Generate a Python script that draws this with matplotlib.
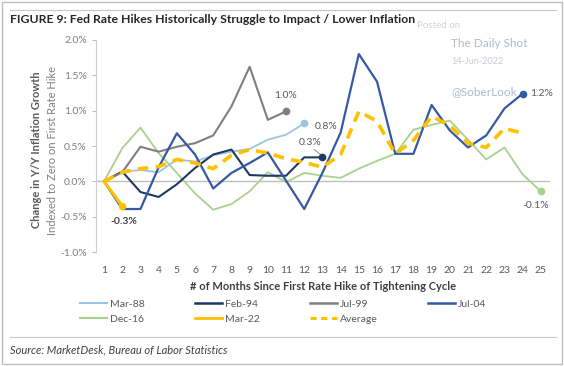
import numpy as np
import matplotlib
matplotlib.use("Agg")
import matplotlib.pyplot as plt
from matplotlib.lines import Line2D

plt.rcParams['font.family'] = ['Lato', 'DejaVu Sans']

# data: change in y/y inflation (%), indexed to zero at first hike
months = list(range(1, 26))
mar88 = [0, 0.14, 0.16, 0.13, 0.31, 0.28, 0.37, 0.42, 0.46, 0.59, 0.66, 0.82]
feb94 = [0, 0.14, -0.15, -0.22, -0.04, 0.19, 0.38, 0.45, 0.09, 0.08, 0.08, 0.34, 0.34]
jul99 = [0, 0.13, 0.49, 0.42, 0.49, 0.54, 0.65, 1.06, 1.62, 0.87, 0.99]
jul04 = [0, -0.39, -0.39, 0.2, 0.68, 0.38, -0.1, 0.12, 0.26, 0.41, 0.01, -0.39, 0.12,
         0.69, 1.8, 1.41, 0.39, 0.39, 1.08, 0.72, 0.48, 0.65, 1.03, 1.24]
dec16 = [0, 0.47, 0.76, 0.4, 0.12, -0.17, -0.4, -0.32, -0.14, 0.13, -0.01, 0.12, 0.08,
         0.05, 0.18, 0.29, 0.39, 0.73, 0.8, 0.86, 0.59, 0.31, 0.48, 0.1, -0.14]
mar22 = [0, -0.35]
average = [0, 0.13, 0.18, 0.21, 0.31, 0.26, 0.18, 0.37, 0.45, 0.4, 0.32, 0.27, 0.2,
           0.38, 0.99, 0.85, 0.39, 0.58, 0.92, 0.79, 0.54, 0.48, 0.75, 0.68]

c_mar88 = '#9DC3E6'
c_feb94 = '#1F3864'
c_jul99 = '#7F7F7F'
c_jul04 = '#3559A5'
c_dec16 = '#A9D18E'
c_mar22 = '#FFC000'

fig = plt.figure(figsize=(5.64, 3.66), dpi=100)
ax = fig.add_axes([0.170, 0.311, 0.805, 0.58])

def m(vals):
    return months[:len(vals)]

ax.plot(m(mar88), mar88, color=c_mar88, lw=1.3, zorder=3)
ax.plot(m(feb94), feb94, color=c_feb94, lw=1.5, zorder=3)
ax.plot(m(jul99), jul99, color=c_jul99, lw=1.5, zorder=3)
ax.plot(m(jul04), jul04, color=c_jul04, lw=1.6, zorder=3)
ax.plot(m(dec16), dec16, color=c_dec16, lw=1.3, zorder=2)
ax.plot(m(mar22), mar22, color=c_mar22, lw=2.2, zorder=5)
ax.plot(m(average), average, color=c_mar22, lw=2.6, ls=(0, (3, 2)), zorder=4)

# end markers
for vals, c in [(mar88, c_mar88), (feb94, c_feb94), (jul99, c_jul99), (jul04, c_jul04),
                (dec16, c_dec16), (mar22, c_mar22)]:
    ax.plot(len(vals), vals[-1], 'o', color=c, ms=4.5, zorder=6)

ax.axhline(0, color='#BFBFBF', lw=1.0, zorder=1)

ax.set_xlim(0.55, 25.5)
ax.set_ylim(-1.0, 2.0)
ax.set_xticks(months)
ax.set_yticks(np.arange(-1.0, 2.01, 0.5))
ax.set_yticklabels(['%.1f%%' % v for v in np.arange(-1.0, 2.01, 0.5)])
ax.tick_params(axis='x', length=0, labelsize=7.5, colors='#595959', pad=10)
ax.tick_params(axis='y', length=3, labelsize=7.5, colors='#7F7F7F', direction='out', width=0.8)
ax.tick_params(axis='y', color='#BFBFBF')
for s in ['top', 'right', 'bottom']:
    ax.spines[s].set_visible(False)
ax.spines['left'].set_color('#D0D0D0')

# value labels
lab = dict(fontsize=7.5, color='#595959')
ax.text(11.0, 1.15, '1.0%', ha='center', va='bottom', **lab)
ax.text(12.6, 0.77, '0.8%', ha='left', va='center', **lab)
ax.text(12.3, 0.48, '0.3%', ha='center', va='bottom', **lab)
ax.plot([12.55, 12.95], [0.45, 0.37], color='#7F7F7F', lw=0.6)
ax.text(2.1, -0.5, '-0.3%', ha='center', va='top', fontsize=7.5, color='#404040', fontweight='bold')
ax.text(24.4, 1.24, '1.2%', ha='left', va='center', **lab)
ax.text(24.7, -0.27, '-0.1%', ha='center', va='top', **lab)

ax.set_xlabel('# of Months Since First Rate Hike of Tightening Cycle', fontsize=8,
              fontweight='bold', color='#404040', labelpad=4)

fig.text(0.064, 0.59, 'Change in Y/Y Inflation Growth', rotation=90, ha='center', va='center',
         fontsize=8, fontweight='bold', color='#595959')
fig.text(0.093, 0.59, 'Indexed to Zero on First Rate Hike', rotation=90, ha='center', va='center',
         fontsize=8, color='#7F7F7F')

# legend (filled column by column, so order gives two rows)
h = {'Mar-88': Line2D([], [], color=c_mar88, lw=1.5),
     'Feb-94': Line2D([], [], color=c_feb94, lw=1.8),
     'Jul-99': Line2D([], [], color=c_jul99, lw=1.8),
     'Jul-04': Line2D([], [], color=c_jul04, lw=1.8),
     'Dec-16': Line2D([], [], color=c_dec16, lw=1.5),
     'Mar-22': Line2D([], [], color=c_mar22, lw=2),
     'Average': Line2D([], [], color=c_mar22, lw=2.2, ls=(0, (2, 1.5)))}
order = ['Mar-88', 'Dec-16', 'Feb-94', 'Mar-22', 'Jul-99', 'Average', 'Jul-04']
leg = fig.legend([h[k] for k in order], order, ncol=4, loc='center',
                 bbox_to_anchor=(0.502, 0.148), frameon=False, fontsize=7.5,
                 handlelength=2.6, handletextpad=0.3, columnspacing=4.8, labelspacing=0.55)
for t in leg.get_texts():
    t.set_color('#595959')

# title, rules, source
fig.text(0.018, 0.948, 'FIGURE 9: Fed Rate Hikes Historically Struggle to Impact / Lower Inflation',
         fontsize=8.8, fontweight='bold', color='#262626', va='center')
fig.add_artist(Line2D([0.018, 0.985], [0.972, 0.972], color='#C8C8C8', lw=0.8))
fig.add_artist(Line2D([0.018, 0.985], [0.079, 0.079], color='#C8C8C8', lw=0.8))
fig.text(0.018, 0.045, 'Source: MarketDesk, Bureau of Labor Statistics', fontsize=8,
         style='italic', color='#404040', va='center')
fig.add_artist(plt.Rectangle((0.004, 0.006), 0.992, 0.988, fill=False, ec='#BFBFBF', lw=1.0))

# watermark
wm = '#B4B8CF'
fig.text(0.74, 0.93, 'Posted on', fontsize=7, color='#D0D0D8', va='center')
fig.text(0.80, 0.88, 'The Daily Shot', fontsize=8.5, color=wm, va='center')
fig.text(0.80, 0.833, '14-Jun-2022', fontsize=6.5, color='#C8CAD8', va='center')
fig.text(0.80, 0.749, '@SoberLook', fontsize=8.5, color=wm, va='center')

fig.savefig('out.png', dpi=100)
